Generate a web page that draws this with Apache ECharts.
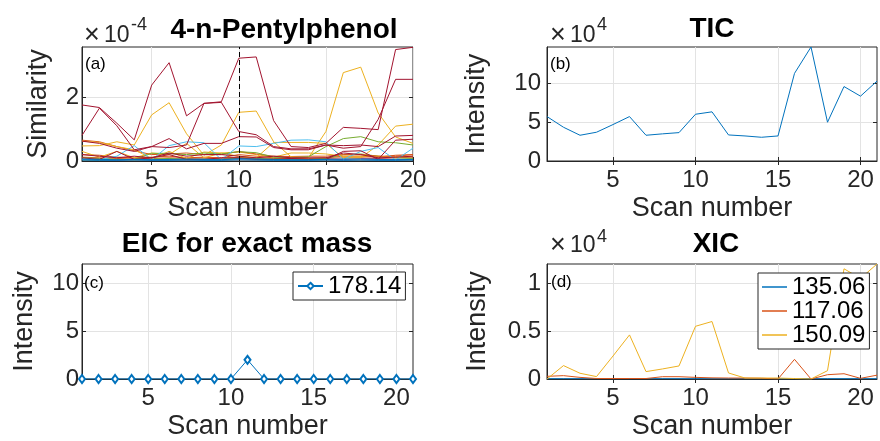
<!DOCTYPE html>
<html><head><meta charset="utf-8">
<script src="https://cdn.jsdelivr.net/npm/echarts@6/dist/echarts.min.js"></script>
<style>html,body{margin:0;padding:0;background:#fff}#c{width:880px;height:441px}</style>
</head><body><div id="c"></div>
<script>
// ---------- DATA ----------
const scans20 = [1,2,3,4,5,6,7,8,9,10,11,12,13,14,15,16,17,18,19,20];
const scans21 = [1,2,3,4,5,6,7,8,9,10,11,12,13,14,15,16,17,18,19,20,21];

// (a) similarity, units of 1e-4
const simBlue1   = [0.03,0.02,0.02,0.03,0.02,0.02,0.03,0.02,0.02,0.04,0.03,0.02,0.02,0.02,0.03,0.02,0.03,0.02,0.02,0.03];
const simBlue2   = [0.06,0.05,0.04,0.05,0.04,0.05,0.06,0.05,0.04,0.07,0.06,0.05,0.04,0.04,0.05,0.06,0.06,0.05,0.04,0.05];
const simPurple1 = [0.05,0.04,0.03,0.06,0.04,0.05,0.04,0.06,0.05,0.08,0.06,0.05,0.04,0.05,0.06,0.05,0.07,0.06,0.05,0.06];
const simOrange1 = [0.65,0.6,0.45,0.32,0.2,0.22,0.25,0.2,0.2,0.3,0.22,0.15,0.14,0.15,0.15,0.2,0.2,0.15,0.15,0.2];
const simOrange2 = [0.2,0.18,0.12,0.1,0.12,0.15,0.1,0.12,0.1,0.2,0.15,0.1,0.08,0.08,0.1,0.15,0.15,0.12,0.18,0.2];
const simOrange3 = [0.12,0.1,0.08,0.06,0.08,0.1,0.08,0.1,0.08,0.12,0.1,0.08,0.06,0.06,0.08,0.1,0.1,0.08,0.1,0.12];
const simGreen2  = [0.04,0.03,0.05,0.04,0.06,0.08,0.05,0.06,0.05,0.1,0.08,0.06,0.05,0.05,0.08,0.2,0.22,0.15,0.1,0.08];
const simYellow3 = [0.3,0.12,0.3,0.1,0.25,0.2,0.55,0.1,0.25,0.28,0.2,0.12,0.25,0.25,0.22,0.15,0.15,0.15,0.12,0.15];
const simYellow2 = [0.62,0.58,0.45,0.35,0.08,0.3,0.08,0.28,0.25,0.15,0.1,0.58,0.58,0.58,0.55,0.1,0.1,0.5,1.09,1.15];
const simYellow1 = [0.47,0.48,0.6,0.5,1.44,1.82,0.85,0.18,0.5,1.52,1.56,0.6,0.13,0.1,0.92,2.76,2.93,1.5,0.75,0.55];
const simGreen1  = [0.1,0.08,0.05,0.05,0.24,0.24,0.2,0.25,0.22,0.29,0.26,0.12,0.1,0.13,0.45,0.7,0.76,0.6,0.57,0.5];
const simCyan1   = [0.05,0.04,0.15,0.48,0.04,0.48,0.6,0.57,0.04,0.47,0.45,0.55,0.65,0.66,0.6,0.05,0.3,0.42,0.03,0.4];
const simRed5    = [0.2,0.15,0.1,0.15,0.1,0.25,0.15,0.2,0.2,0.15,0.1,0.15,0.1,0.1,0.1,0.25,0.2,0.1,0.12,0.15];
const simRed4    = [0.1,0.05,0.3,0.05,0.1,0.2,0.05,0.05,0.1,0.1,0.05,0.05,0.08,0.05,0.05,0.3,0.32,0.05,0.65,0.68];
const simRed3    = [0.62,0.55,0.4,0.3,0.45,0.7,0.38,0.55,0.55,0.76,0.75,0.42,0.35,0.35,0.5,0.48,0.5,0.45,0.78,0.8];
const simRed2    = [0.8,1.65,1.1,0.35,0.45,0.42,0.5,1.8,1.83,0.92,0.82,0.45,0.38,0.38,0.5,0.4,0.45,1.3,2.55,2.55];
const simRed1    = [1.75,1.67,1.18,0.66,2.37,3.07,1.41,1.8,1.85,3.21,3.25,1.26,0.45,0.42,0.55,1.05,1.02,0.98,3.48,3.55];
const simMarkedScan = 10;

// (b) TIC, units of 1e4
const ticValues = [5.73,4.35,3.32,3.71,4.7,5.73,3.32,3.5,3.66,6.03,6.34,3.36,3.23,3.06,3.23,11.3,14.7,5.0,9.6,8.36,10.3];

// (c) EIC
const eicName = '178.14';
const eicValues = [0,0,0,0,0,0,0,0,0,0,2.0,0,0,0,0,0,0,0,0,0,0];

// (d) XIC, units of 1e4
const xicNames = ['135.06','117.06','150.09'];
const xic13506 = [0.003,0.003,0.003,0.003,0.003,0.003,0.003,0.003,0.003,0.003,0.003,0.003,0.003,0.003,0.003,0.003,0.003,0.003,0.003,0.003,0.003];
const xic11706 = [0.028,0.035,0.017,0.005,0.005,0.005,0.005,0.024,0.024,0.017,0.012,0.01,0.01,0.008,0.0,0.205,0.0,0.045,0.055,0.007,0.04];
const xic15009 = [0.0,0.14,0.06,0.025,0.24,0.46,0.077,0.105,0.136,0.55,0.6,0.063,0.01,0.01,0.01,0.005,0.0,0.087,1.15,1.05,1.2];

// ticks
const xTicks = [5,10,15,20];
const yTicksA = [0,2];
const yTicksB = [0,5,10];
const yTicksC = [0,5,10];
const yTicksD = [0,0.5,1];

// ---------- STYLE / LAYOUT ----------
const FONT = "'Liberation Sans', Arial, Helvetica, sans-serif";
const AX = '#262626';
const GRIDC = '#e3e3e3';
const C = {blue:'#0072BD', orange:'#D95319', yellow:'#EDB120', purple:'#7E2F8E', green:'#77AC30', cyan:'#4DBEEE', red:'#A2142F'};

const simList = [
  ['s1', simOrange3, C.orange], ['s2', simOrange2, C.orange], ['s3', simPurple1, C.purple],
  ['s4', simGreen2, C.green], ['s5', simYellow3, C.yellow], ['s6', simOrange1, C.orange],
  ['s7', simYellow2, C.yellow], ['s8', simYellow1, C.yellow], ['s9', simGreen1, C.green],
  ['s10', simCyan1, C.cyan], ['s11', simRed5, C.red], ['s12', simRed4, C.red],
  ['s13', simRed3, C.red], ['s14', simRed2, C.red], ['s15', simRed1, C.red],
  ['s16', simBlue2, C.blue], ['s17', simBlue1, C.blue]
];

const grids = [
  {left:82, top:47, width:331, height:114},
  {left:547, top:47, width:330, height:114},
  {left:82, top:264, width:331, height:115},
  {left:547, top:264, width:330, height:115}
].map(g => Object.assign({show:true, borderColor:AX, borderWidth:1, backgroundColor:'#fff', outerBoundsMode:'none', containLabel:false}, g));

function xMain(g, min, max) {
  return {type:'value', gridIndex:g, min, max, name:'Scan number', nameLocation:'middle', nameGap:34, nameMoveOverlap:false,
    nameTextStyle:{fontSize:27, color:AX, fontFamily:FONT},
    axisLine:{show:true, onZero:false, lineStyle:{color:AX}},
    axisTick:{show:true, inside:true, length:4, lineStyle:{color:AX}, customValues:xTicks},
    axisLabel:{show:true, customValues:xTicks, fontSize:24, color:AX, fontFamily:FONT, margin:7},
    splitLine:{show:true, lineStyle:{color:GRIDC, width:1}}};
}
function xTop(g, min, max) {
  return {type:'value', gridIndex:g, min, max, position:'top',
    axisLine:{show:false}, axisTick:{show:true, inside:true, length:4, lineStyle:{color:AX}, customValues:xTicks},
    axisLabel:{show:false}, splitLine:{show:false}};
}
function yMain(g, min, max, ticks, name, gap, margin) {
  return {type:'value', gridIndex:g, min, max, name, nameLocation:'middle', nameGap:gap, nameMoveOverlap:false,
    nameTextStyle:{fontSize:27, color:AX, fontFamily:FONT},
    axisLine:{show:true, onZero:false, lineStyle:{color:AX}},
    axisTick:{show:true, inside:true, length:4, lineStyle:{color:AX}, customValues:ticks},
    axisLabel:{show:true, customValues:ticks, fontSize:24, color:AX, fontFamily:FONT, margin},
    splitLine:{show:true, lineStyle:{color:GRIDC, width:1}}};
}
function yRight(g, min, max, ticks) {
  return {type:'value', gridIndex:g, min, max, position:'right',
    axisLine:{show:false}, axisTick:{show:true, inside:true, length:4, lineStyle:{color:AX}, customValues:ticks},
    axisLabel:{show:false}, splitLine:{show:false}};
}

const pairs = (xs, ys) => xs.map((x, i) => [x, ys[i]]);

const series = [];
simList.forEach(([name, vals, color], i) => {
  const s = {type:'line', name, xAxisIndex:0, yAxisIndex:0, data:pairs(scans20, vals), symbol:'none',
    lineStyle:{color, width:1}, itemStyle:{color}, silent:true, z:2};
  if (i === simList.length - 1) {
    s.markLine = {silent:true, symbol:'none', label:{show:false}, animation:false,
      lineStyle:{color:'#000', type:[5,3], width:1}, data:[{xAxis:simMarkedScan}]};
  }
  series.push(s);
});
series.push({type:'line', name:'TIC', xAxisIndex:1, yAxisIndex:1, data:pairs(scans21, ticValues), symbol:'none',
  lineStyle:{color:C.blue, width:1}, itemStyle:{color:C.blue}});
series.push({type:'line', name:eicName, xAxisIndex:2, yAxisIndex:2, data:pairs(scans21, eicValues), symbol:'emptyDiamond', symbolSize:[6,8], showSymbol:true,
  lineStyle:{color:C.blue, width:1}, itemStyle:{color:C.blue, borderColor:C.blue, borderWidth:1}});
[[xicNames[0], xic13506, C.blue], [xicNames[1], xic11706, C.orange], [xicNames[2], xic15009, C.yellow]].forEach(([name, vals, color]) => {
  series.push({type:'line', name, xAxisIndex:3, yAxisIndex:3, data:pairs(scans21, vals), symbol:'none',
    lineStyle:{color, width:1}, itemStyle:{color}});
});

function txt(text, x, y, size, opts) {
  return Object.assign({type:'text', x, y, silent:true, z:100,
    style:Object.assign({text, fontSize:size, fontFamily:FONT, fill:AX, align:'left', verticalAlign:'middle'}, opts || {})});
}
const titleStyle = {fontWeight:'bold', fill:'#000', align:'center'};

const graphic = [
  txt('4-n-Pentylphenol', 284, 30, 28, titleStyle),
  txt('TIC', 712, 29, 28, titleStyle),
  txt('EIC for exact mass', 247, 244, 28, titleStyle),
  txt('XIC', 716, 244, 28, titleStyle),
  txt('×', 84, 36, 27), txt('10', 104, 36, 23), txt('-4', 131, 25, 18),
  txt('×', 550, 35.5, 27), txt('10', 570, 35.5, 23), txt('4', 597, 25, 18),
  txt('×', 550, 245.5, 27), txt('10', 570, 245.5, 23), txt('4', 597, 237, 18),
  txt('(a)', 85, 64, 17, {fill:'#000'}),
  txt('(b)', 550, 64, 17, {fill:'#000'}),
  txt('(c)', 84, 283, 17, {fill:'#000'}),
  txt('(d)', 551, 282, 17, {fill:'#000'})
];

const legendBase = {orient:'vertical', itemWidth:25, itemHeight:8, itemGap:0, padding:[2,4,2,4],
  borderColor:AX, borderWidth:1, borderRadius:0, backgroundColor:'#fff', selectedMode:false, z:50,
  textStyle:{fontSize:24, color:'#000', fontFamily:FONT, lineHeight:23}};

const option = {
  animation:false,
  backgroundColor:'#fff',
  grid:grids,
  xAxis:[xMain(0,1,20), xMain(1,1,21), xMain(2,1,21), xMain(3,1,21), xTop(0,1,20), xTop(1,1,21), xTop(2,1,21), xTop(3,1,21)],
  yAxis:[yMain(0,0,3.56,yTicksA,'Similarity',30,3), yMain(1,0,14.7,yTicksB,'Intensity',57,6), yMain(2,0,12,yTicksC,'Intensity',44,3), yMain(3,0,1.2,yTicksD,'Intensity',56,6),
         yRight(0,0,3.56,yTicksA), yRight(1,0,14.7,yTicksB), yRight(2,0,12,yTicksC), yRight(3,0,1.2,yTicksD)],
  legend:[
    Object.assign({}, legendBase, {data:[eicName], left:293, top:272}),
    Object.assign({}, legendBase, {data:xicNames, left:758, top:273, icon:'rect', itemHeight:1.5})
  ],
  series,
  graphic
};

const chart = echarts.init(document.getElementById('c'), null, {renderer:'canvas'});
chart.setOption(option);
</script>
</body></html>
